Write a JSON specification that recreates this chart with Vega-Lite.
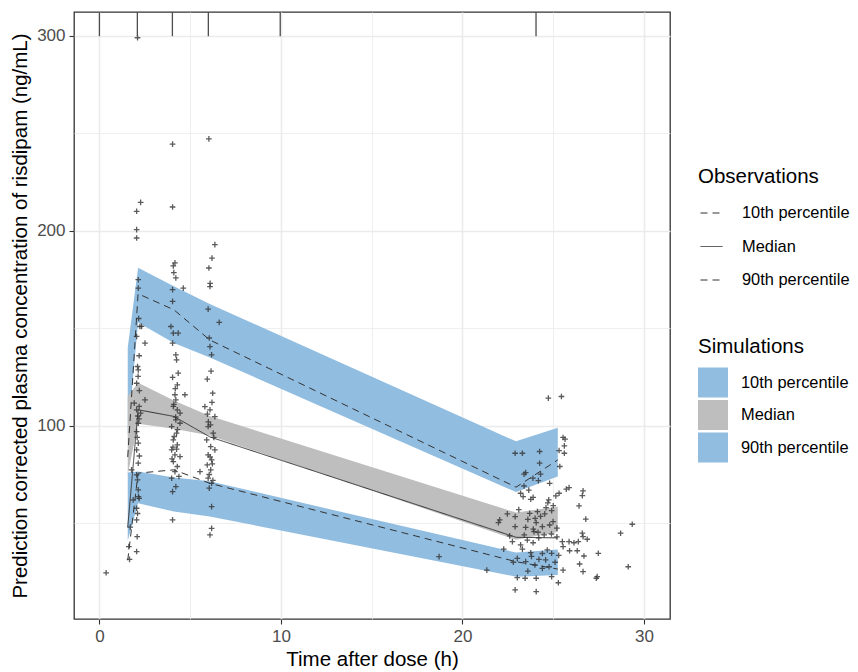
{
  "$schema": "https://vega.github.io/schema/vega-lite/v6.json",
  "width": 596,
  "height": 607,
  "autosize": {"type": "none"},
  "padding": {"left": 74, "top": 12, "right": 188, "bottom": 53},
  "background": "white",
  "config": {
    "font": "Liberation Sans",
    "view": {"stroke": "#333333", "strokeWidth": 1.3},
    "axis": {
      "domain": false,
      "grid": true,
      "gridColor": "#ebebeb",
      "tickSize": 5,
      "tickWidth": 1.1,
      "labelPadding": 4,
      "labelFontSize": 17,
      "labelColor": "#4d4d4d",
      "labelOverlap": false,
      "labelFlush": false,
      "titleFontSize": 20.5,
      "titleFontWeight": "normal",
      "titleColor": "#000000"
    },
    "legend": {"padding": 0, "titleFontWeight": "normal", "titleColor": "#000000", "labelColor": "#000000", "titleFontSize": 20.5, "labelFontSize": 16.4}
  },
  "datasets": {
    "bands": [
      {"time": 1.56, "lo": 95, "hi": 140, "band": "sim 90th percentile"},
      {"time": 2.13, "lo": 153, "hi": 181, "band": "sim 90th percentile"},
      {"time": 4.1, "lo": 142.5, "hi": 171.5, "band": "sim 90th percentile"},
      {"time": 6.08, "lo": 135, "hi": 162.5, "band": "sim 90th percentile"},
      {"time": 22.95, "lo": 66, "hi": 92, "band": "sim 90th percentile"},
      {"time": 25.25, "lo": 74, "hi": 99, "band": "sim 90th percentile"},
      {"time": 1.56, "lo": 75, "hi": 115, "band": "sim Median"},
      {"time": 2.13, "lo": 101, "hi": 122, "band": "sim Median"},
      {"time": 4.1, "lo": 98.5, "hi": 113, "band": "sim Median"},
      {"time": 6.08, "lo": 95, "hi": 105, "band": "sim Median"},
      {"time": 22.95, "lo": 41.5, "hi": 55.5, "band": "sim Median"},
      {"time": 25.25, "lo": 45.5, "hi": 58.5, "band": "sim Median"},
      {"time": 1.56, "lo": 41, "hi": 76, "band": "sim 10th percentile"},
      {"time": 2.13, "lo": 60.3, "hi": 76.5, "band": "sim 10th percentile"},
      {"time": 4.1, "lo": 56, "hi": 73.5, "band": "sim 10th percentile"},
      {"time": 6.08, "lo": 53.5, "hi": 71.5, "band": "sim 10th percentile"},
      {"time": 22.95, "lo": 22.6, "hi": 35, "band": "sim 10th percentile"},
      {"time": 25.25, "lo": 23.5, "hi": 36.5, "band": "sim 10th percentile"}
    ],
    "obs": [
      {"time": 1.56, "conc": 31, "stat": "10th percentile"},
      {"time": 2.13, "conc": 75.7, "stat": "10th percentile"},
      {"time": 4.1, "conc": 77.4, "stat": "10th percentile"},
      {"time": 6.08, "conc": 70.5, "stat": "10th percentile"},
      {"time": 22.95, "conc": 30.3, "stat": "10th percentile"},
      {"time": 25.25, "conc": 26.5, "stat": "10th percentile"},
      {"time": 1.56, "conc": 48, "stat": "Median"},
      {"time": 2.13, "conc": 108.2, "stat": "Median"},
      {"time": 4.1, "conc": 104.8, "stat": "Median"},
      {"time": 6.08, "conc": 94.3, "stat": "Median"},
      {"time": 22.95, "conc": 42.8, "stat": "Median"},
      {"time": 25.25, "conc": 42.5, "stat": "Median"},
      {"time": 1.56, "conc": 84, "stat": "90th percentile"},
      {"time": 2.13, "conc": 167.7, "stat": "90th percentile"},
      {"time": 4.1, "conc": 159.5, "stat": "90th percentile"},
      {"time": 6.08, "conc": 144, "stat": "90th percentile"},
      {"time": 22.95, "conc": 68.5, "stat": "90th percentile"},
      {"time": 25.25, "conc": 82.5, "stat": "90th percentile"}
    ],
    "bins": [{"time": 0}, {"time": 2.09}, {"time": 4.02}, {"time": 6.0}, {"time": 9.96}, {"time": 24.05}],
    "pts": [
      {"time": 0.37, "conc": 24.6}, {"time": 1.66, "conc": 31.5}, {"time": 1.62, "conc": 38}, {"time": 1.7, "conc": 48}, {"time": 2.05, "conc": 35.5},
      {"time": 2.1, "conc": 299}, {"time": 2.27, "conc": 214.6}, {"time": 2.05, "conc": 210}, {"time": 2.05, "conc": 200.6}, {"time": 2.05, "conc": 196.3},
      {"time": 2.14, "conc": 174.9}, {"time": 2.14, "conc": 170.6}, {"time": 2.23, "conc": 150.9}, {"time": 2.05, "conc": 145.8}, {"time": 2.51, "conc": 142.4},
      {"time": 2.19, "conc": 135.9}, {"time": 2.14, "conc": 128.7}, {"time": 2.05, "conc": 121.8}, {"time": 2.51, "conc": 113.3}, {"time": 2.19, "conc": 109.9},
      {"time": 2.05, "conc": 108.2}, {"time": 2.27, "conc": 106.5}, {"time": 2.14, "conc": 101.3}, {"time": 2.05, "conc": 97}, {"time": 2.14, "conc": 91.1},
      {"time": 2.05, "conc": 87.6}, {"time": 2.14, "conc": 80.8}, {"time": 2.05, "conc": 74.8}, {"time": 2.14, "conc": 67.1}, {"time": 2.19, "conc": 62.8},
      {"time": 2.05, "conc": 57.7}, {"time": 2.05, "conc": 51.7}, {"time": 2.08, "conc": 43.1}, {"time": 1.86, "conc": 62}, {"time": 1.77, "conc": 77.4},
      {"time": 1.92, "conc": 111.6}, {"time": 2.12, "conc": 105}, {"time": 2.18, "conc": 103.5}, {"time": 2.08, "conc": 94}, {"time": 2.2, "conc": 84.5},
      {"time": 2.1, "conc": 72.2}, {"time": 2.15, "conc": 63.7}, {"time": 2.1, "conc": 55}, {"time": 2.2, "conc": 118}, {"time": 2.13, "conc": 125.3},
      {"time": 2.1, "conc": 130.4}, {"time": 2.16, "conc": 155}, {"time": 2.32, "conc": 151},
      {"time": 4.03, "conc": 212.2}, {"time": 4.03, "conc": 244.4}, {"time": 4.16, "conc": 183.5}, {"time": 4.07, "conc": 182}, {"time": 4.21, "conc": 175.8},
      {"time": 4.62, "conc": 170.6}, {"time": 4.03, "conc": 169.8}, {"time": 4.03, "conc": 163.8}, {"time": 3.94, "conc": 150.9}, {"time": 4.07, "conc": 147.5},
      {"time": 4.34, "conc": 147.5}, {"time": 4.03, "conc": 142.4}, {"time": 4.21, "conc": 136.4}, {"time": 4.25, "conc": 133.8}, {"time": 4.34, "conc": 127},
      {"time": 4.03, "conc": 124.8}, {"time": 4.29, "conc": 121}, {"time": 4.71, "conc": 115.9}, {"time": 4.16, "conc": 115.9}, {"time": 4.21, "conc": 113.3},
      {"time": 4.07, "conc": 109.9}, {"time": 4.29, "conc": 108.2}, {"time": 4.44, "conc": 106.5}, {"time": 4.21, "conc": 103}, {"time": 4.44, "conc": 101.3},
      {"time": 3.98, "conc": 99.6}, {"time": 4.25, "conc": 96.2}, {"time": 4.07, "conc": 92.8}, {"time": 4.29, "conc": 90.2}, {"time": 3.98, "conc": 87.6},
      {"time": 4.16, "conc": 85.1}, {"time": 4.44, "conc": 84.2}, {"time": 4.07, "conc": 81.6}, {"time": 4.29, "conc": 79.1}, {"time": 4.16, "conc": 76.5},
      {"time": 3.98, "conc": 73.1}, {"time": 4.21, "conc": 68.8}, {"time": 4.03, "conc": 66.2}, {"time": 4.03, "conc": 51.7}, {"time": 4.1, "conc": 178.5},
      {"time": 4.2, "conc": 104.5}, {"time": 4.12, "conc": 94.5}, {"time": 4.05, "conc": 89}, {"time": 4.3, "conc": 98}, {"time": 4.1, "conc": 111},
      {"time": 4.18, "conc": 119}, {"time": 4.0, "conc": 83}, {"time": 4.25, "conc": 88}, {"time": 4.38, "conc": 74}, {"time": 5.54, "conc": 76.5},
      {"time": 6.03, "conc": 247.1}, {"time": 6.36, "conc": 192.9}, {"time": 6.2, "conc": 186}, {"time": 6.03, "conc": 180.9}, {"time": 6.09, "conc": 171.4},
      {"time": 5.99, "conc": 159.8}, {"time": 6.6, "conc": 153}, {"time": 6.09, "conc": 140.6}, {"time": 6.18, "conc": 136.4}, {"time": 5.94, "conc": 123.9},
      {"time": 6.24, "conc": 116.7}, {"time": 5.81, "conc": 109.8}, {"time": 6.09, "conc": 108.2}, {"time": 6.36, "conc": 104.7}, {"time": 5.99, "conc": 99.6},
      {"time": 6.27, "conc": 96.2}, {"time": 5.91, "conc": 92.8}, {"time": 6.13, "conc": 89.3}, {"time": 6.36, "conc": 87.6}, {"time": 5.99, "conc": 85.1},
      {"time": 6.18, "conc": 82.5}, {"time": 5.94, "conc": 79.9}, {"time": 6.13, "conc": 77.4}, {"time": 5.99, "conc": 73.1}, {"time": 6.18, "conc": 70.5},
      {"time": 6.05, "conc": 68}, {"time": 6.18, "conc": 58.5}, {"time": 6.18, "conc": 47.4}, {"time": 6.09, "conc": 44}, {"time": 6.1, "conc": 173},
      {"time": 6.05, "conc": 145}, {"time": 6.15, "conc": 128}, {"time": 6.2, "conc": 112}, {"time": 6.0, "conc": 102}, {"time": 6.3, "conc": 94},
      {"time": 6.1, "conc": 84}, {"time": 6.05, "conc": 75}, {"time": 6.25, "conc": 72}, {"time": 6.12, "conc": 100.5}, {"time": 5.95, "conc": 106},
      {"time": 6.22, "conc": 80.5},
      {"time": 24.73, "conc": 114.2}, {"time": 25.45, "conc": 115}, {"time": 25.54, "conc": 94}, {"time": 25.65, "conc": 93.1}, {"time": 25.61, "conc": 89.7},
      {"time": 25.32, "conc": 87.3}, {"time": 25.61, "conc": 85.9}, {"time": 22.9, "conc": 85.9}, {"time": 23.3, "conc": 85.9}, {"time": 24.25, "conc": 86.8},
      {"time": 24.25, "conc": 80.8}, {"time": 23.48, "conc": 76}, {"time": 23.39, "conc": 75.2}, {"time": 25.36, "conc": 79.1}, {"time": 24.3, "conc": 75.2},
      {"time": 23.88, "conc": 73.1}, {"time": 24.18, "conc": 71.9}, {"time": 24.8, "conc": 70.5}, {"time": 23.39, "conc": 69.1}, {"time": 25.87, "conc": 68.3},
      {"time": 25.72, "conc": 67.5}, {"time": 23.2, "conc": 65.4}, {"time": 25.32, "conc": 65.4}, {"time": 25.14, "conc": 64}, {"time": 26.64, "conc": 66.6},
      {"time": 26.6, "conc": 64.2}, {"time": 23.34, "conc": 63.7}, {"time": 23.89, "conc": 63.3}, {"time": 23.76, "conc": 62.3}, {"time": 26.42, "conc": 58.9},
      {"time": 26.79, "conc": 52.1}, {"time": 22.47, "conc": 54.8}, {"time": 22.9, "conc": 53.4}, {"time": 23.7, "conc": 55.1}, {"time": 24.13, "conc": 56},
      {"time": 24.53, "conc": 54.8}, {"time": 24.91, "conc": 56.5}, {"time": 21.98, "conc": 50.3}, {"time": 22.05, "conc": 51.7}, {"time": 22.9, "conc": 48.3},
      {"time": 23.48, "conc": 47.9}, {"time": 24.06, "conc": 50.3}, {"time": 24.4, "conc": 48.3}, {"time": 24.8, "conc": 49.1}, {"time": 24.99, "conc": 50.8},
      {"time": 29.35, "conc": 49.5}, {"time": 28.71, "conc": 44.9}, {"time": 26.6, "conc": 44.9}, {"time": 26.64, "conc": 43.1}, {"time": 26.38, "conc": 40.6},
      {"time": 26.87, "conc": 41.8}, {"time": 23.94, "conc": 45.7}, {"time": 24.16, "conc": 45.4}, {"time": 23.57, "conc": 41.4}, {"time": 23.89, "conc": 40},
      {"time": 22.75, "conc": 40.6}, {"time": 23.2, "conc": 38.9}, {"time": 25.5, "conc": 40.6}, {"time": 25.87, "conc": 40.6}, {"time": 26.14, "conc": 40},
      {"time": 26.32, "conc": 35.9}, {"time": 25.9, "conc": 35.9}, {"time": 25.54, "conc": 38}, {"time": 24.67, "conc": 36.3}, {"time": 24.91, "conc": 34.6},
      {"time": 23.3, "conc": 36.7}, {"time": 23.76, "conc": 34.9}, {"time": 26.69, "conc": 33.2}, {"time": 27.48, "conc": 34.6}, {"time": 24.21, "conc": 31.5},
      {"time": 24.58, "conc": 31.2}, {"time": 23.02, "conc": 32}, {"time": 23.48, "conc": 30.3}, {"time": 26.45, "conc": 29.1}, {"time": 25.54, "conc": 26},
      {"time": 23.99, "conc": 28.6}, {"time": 24.4, "conc": 26.9}, {"time": 24.77, "conc": 27.7}, {"time": 26.64, "conc": 25.2}, {"time": 29.13, "conc": 27.7},
      {"time": 27.42, "conc": 22.6}, {"time": 27.37, "conc": 21.8}, {"time": 23.02, "conc": 22.1}, {"time": 23.45, "conc": 21.8}, {"time": 24.06, "conc": 21.8},
      {"time": 24.91, "conc": 22.6}, {"time": 25.28, "conc": 19.5}, {"time": 22.9, "conc": 15.8}, {"time": 24.06, "conc": 14.9}, {"time": 21.34, "conc": 26},
      {"time": 22.27, "conc": 36.7}, {"time": 18.71, "conc": 32.9}, {"time": 23.6, "conc": 52}, {"time": 24.0, "conc": 52.5}, {"time": 24.3, "conc": 53.5},
      {"time": 24.6, "conc": 58}, {"time": 25.0, "conc": 59}, {"time": 23.9, "conc": 47}, {"time": 24.5, "conc": 44}, {"time": 24.2, "conc": 42.5},
      {"time": 23.4, "conc": 44}, {"time": 24.9, "conc": 44.5}, {"time": 25.2, "conc": 43}, {"time": 22.6, "conc": 43.5}, {"time": 23.1, "conc": 57},
      {"time": 24.7, "conc": 60.5}, {"time": 23.8, "conc": 33}, {"time": 24.4, "conc": 34.5}, {"time": 25.1, "conc": 30}, {"time": 25.3, "conc": 33.5},
      {"time": 22.8, "conc": 30}, {"time": 23.6, "conc": 25.5}, {"time": 25.2, "conc": 47.5}, {"time": 24.75, "conc": 62}, {"time": 23.65, "conc": 67}
    ]
  },
  "layer": [
    {
      "data": {"name": "bands"},
      "mark": {"type": "area", "opacity": 1},
      "encoding": {
        "x": {
          "field": "time", "type": "quantitative", "title": "Time after dose (h)",
          "scale": {"domain": [-1.4, 31.43], "nice": false, "zero": false},
          "axis": {
            "values": [0, 5, 10, 15, 20, 25, 30],
            "labelExpr": "datum.value % 10 === 0 ? datum.label : ''",
            "gridWidth": {"condition": {"test": "datum.value % 10 === 0", "value": 1.6}, "value": 0.8},
            "tickColor": {"condition": {"test": "datum.value % 10 === 0", "value": "#333333"}, "value": "transparent"},
            "titlePadding": 5
          }
        },
        "y": {
          "field": "lo", "type": "quantitative", "title": "Prediction corrected plasma concentration of risdipam (ng/mL)",
          "scale": {"domain": [0.9, 312.2], "nice": false, "zero": false},
          "axis": {
            "values": [50, 100, 150, 200, 250, 300],
            "labelExpr": "datum.value % 100 === 0 ? datum.label : ''",
            "gridWidth": {"condition": {"test": "datum.value % 100 === 0", "value": 1.6}, "value": 0.8},
            "tickColor": {"condition": {"test": "datum.value % 100 === 0", "value": "#333333"}, "value": "transparent"},
            "titlePadding": 6
          }
        },
        "y2": {"field": "hi"},
        "fill": {
          "field": "band", "type": "nominal", "title": "Simulations",
          "scale": {"domain": ["sim 10th percentile", "sim Median", "sim 90th percentile"], "range": ["#91bde1", "#bebebe", "#91bde1"]},
          "legend": {
            "orient": "none", "legendX": 624, "legendY": 325,
            "labelExpr": "replace(datum.label, 'sim ', '')",
            "symbolType": "square", "symbolSize": 900, "symbolStrokeWidth": 0, "symbolOpacity": 1,
            "labelOffset": 13, "rowPadding": 2.5, "titlePadding": 10
          }
        }
      }
    },
    {
      "data": {"name": "pts"},
      "mark": {"type": "point", "shape": "M-1,0H1M0,-1V1", "filled": false, "size": 32, "strokeWidth": 1.3, "color": "#333333", "opacity": 0.8},
      "encoding": {
        "x": {"field": "time", "type": "quantitative", "title": "Time after dose (h)"},
        "y": {"field": "conc", "type": "quantitative", "title": "Prediction corrected plasma concentration of risdipam (ng/mL)"}
      }
    },
    {
      "data": {"name": "obs"},
      "mark": {"type": "line", "color": "#333333", "strokeWidth": 1},
      "encoding": {
        "x": {"field": "time", "type": "quantitative", "title": "Time after dose (h)"},
        "y": {"field": "conc", "type": "quantitative", "title": "Prediction corrected plasma concentration of risdipam (ng/mL)"},
        "strokeDash": {
          "field": "stat", "type": "nominal", "title": "Observations",
          "scale": {"domain": ["10th percentile", "Median", "90th percentile"], "range": [[7, 5], [1, 0], [7, 5]]},
          "legend": {
            "orient": "none", "legendX": 624, "legendY": 155,
            "symbolType": "stroke", "symbolSize": 484, "symbolStrokeColor": "#333333", "symbolStrokeWidth": 1,
            "symbolOffset": 2, "labelOffset": 19, "rowPadding": 13.5, "titlePadding": 14
          }
        }
      }
    },
    {
      "data": {"name": "bins"},
      "mark": {"type": "rule", "color": "#4d4d4d", "strokeWidth": 1.3},
      "encoding": {
        "x": {"field": "time", "type": "quantitative", "title": "Time after dose (h)"},
        "y": {"datum": 312.2},
        "y2": {"datum": 299.8}
      }
    }
  ]
}
